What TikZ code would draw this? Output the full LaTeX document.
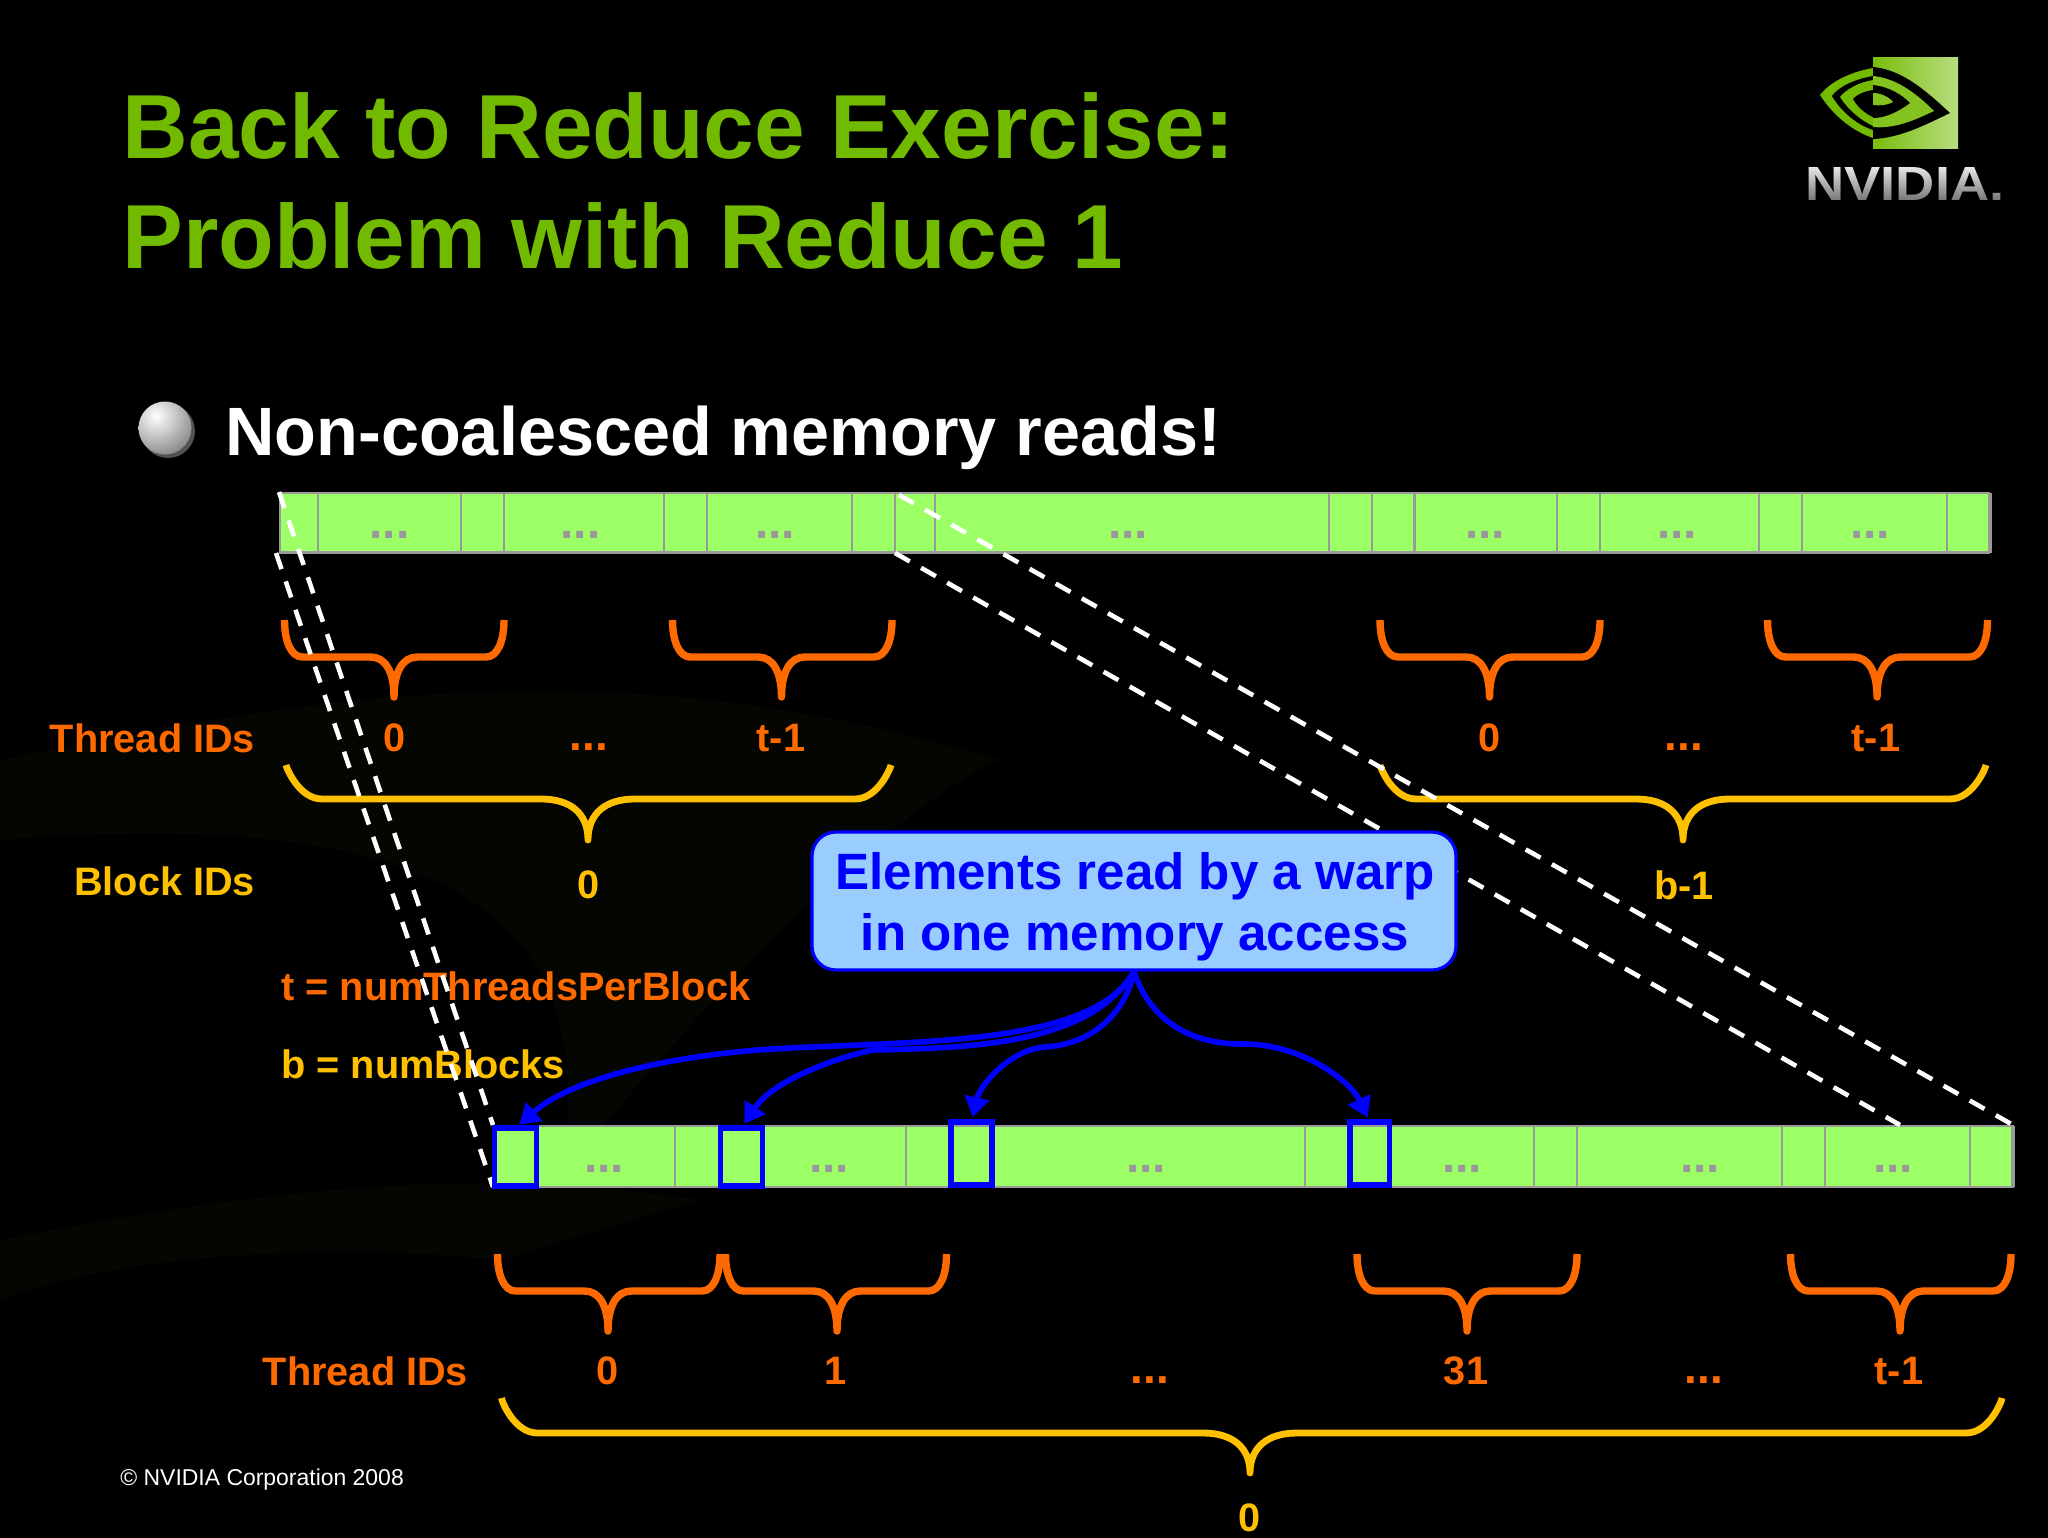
\documentclass[tikz,border=0pt]{standalone}
\usepackage{fontspec}
\setmainfont{Liberation Sans}
\usetikzlibrary{arrows.meta,fadings,calc}
\definecolor{ttl}{HTML}{72BA00}
\definecolor{barg}{HTML}{9CFF66}
\definecolor{barl}{HTML}{999999}
\definecolor{org}{HTML}{FF6A00}
\definecolor{ylw}{HTML}{FFC000}
\definecolor{blu}{HTML}{0000FF}
\definecolor{call}{HTML}{99CCFF}
\definecolor{faint}{HTML}{050502}
\tikzset{
  lbl/.style={inner sep=0pt,font=\fontsize{19.85}{24}\bfseries\selectfont},
  olbl/.style={lbl,text=org},
  ylbl/.style={lbl,text=ylw},
  gaps/.style={lbl,text=org,yshift=-4.5pt,font=\fontsize{23}{24}\bfseries\selectfont},
  ttlbl/.style={inner sep=0pt,anchor=base west,text=ttl,font=\fontsize{45.5}{52}\bfseries\selectfont},
  barbox/.style={draw=barl,fill=barg,line width=1.1pt,inner sep=0pt,outer sep=0pt,rectangle,anchor=north west},
  divline/.style={draw=barl,line width=1.2pt},
  dots/.style={inner sep=0pt,text=barl,anchor=base,font=\fontsize{24}{24}\bfseries\selectfont},
  obrace/.style={draw=org,line width=3.7pt,line cap=butt,line join=round},
  ybrace/.style={draw=ylw,line width=3.4pt,line cap=butt,line join=round},
  dashln/.style={draw=white,line width=2.3pt,dash pattern=on 8.5pt off 6.5pt},
  bluebox/.style={draw=blu,line width=2.7pt,inner sep=0pt,outer sep=0pt,rectangle,anchor=north west},
  warp/.style={draw=blu,line width=2.8pt,shorten >=2.5pt,-{Triangle[length=10pt,width=12pt]}},
}
\newcommand{\curlyb}[8]{\draw[#1] (#2,#5) .. controls (#2,#6-0.9*#8) and (#2+0.35*#8,#6) .. (#2+#8,#6) -- (#4-1.3*#8,#6) .. controls (#4-0.5*#8,#6) and (#4,#6+14) .. (#4,#7) .. controls (#4,#6+14) and (#4+0.5*#8,#6) .. (#4+1.3*#8,#6) -- (#3-#8,#6) .. controls (#3-0.35*#8,#6) and (#3,#6-0.9*#8) .. (#3,#5);}
\begin{document}
\begin{tikzpicture}[x=0.5pt,y=-0.5pt]
\useasboundingbox (0,0) rectangle (2048,1537);
\fill[black] (-4,-4) rectangle (2052,1541);
% faint background marks
\fill[faint] (0,760) .. controls (300,700) and (600,640) .. (1000,760) .. controls (900,800) and (700,1000) .. (560,1180) .. controls (600,950) and (500,800) .. (0,840) -- cycle;
\fill[faint] (0,1240) .. controls (300,1180) and (500,1170) .. (700,1200) -- (500,1260) .. controls (300,1240) and (100,1260) .. (0,1300) -- cycle;
% title
\node[ttlbl] (t1) at (122,158) {Back to Reduce Exercise:};
\node[ttlbl] (t2) at (122,268) {Problem with Reduce 1};
% logo
\shade[left color=ttl!95!white,right color=ttl!50!white] (1873,57) rectangle (1958,148);
\begin{scope}
\clip (1815,50) rectangle (1873,150);
\fill[ttl] (1873,68) .. controls (1850,72) and (1830,82) .. (1820,95) .. controls (1835,118) and (1855,132) .. (1873,138) -- cycle;
\fill[black] (1873,76) .. controls (1855,79) and (1838,87) .. (1832,96) .. controls (1842,113) and (1858,125) .. (1873,130) -- cycle;
\fill[ttl] (1873,80) .. controls (1860,82) and (1846,89) .. (1840,97) .. controls (1848,110) and (1862,121) .. (1873,126) -- cycle;
\fill[black] (1873,90) .. controls (1865,91) and (1856,95) .. (1853,99) .. controls (1858,108) and (1866,114) .. (1873,117) -- cycle;
\end{scope}
\begin{scope}
\clip (1873,50) rectangle (1958,150);
\fill[black] (1873,67) .. controls (1905,70) and (1930,95) .. (1950,113) .. controls (1925,125) and (1900,138) .. (1873,139) -- cycle;
\fill[ttl!88!white] (1873,76) .. controls (1895,78) and (1915,92) .. (1934,111) .. controls (1915,120) and (1895,129) .. (1873,127) -- cycle;
\fill[black] (1873,85) .. controls (1890,87) and (1902,95) .. (1910,103) .. controls (1898,112) and (1885,118) .. (1873,118) -- cycle;
\fill[ttl!88!white] (1873,93) .. controls (1882,93) and (1890,98) .. (1893,102) .. controls (1888,105) and (1880,106) .. (1873,105) -- cycle;
\end{scope}
\node[inner sep=0pt,anchor=base,text=white!92!black,font=\fontsize{24}{24}\bfseries\selectfont,xscale=1.13] (logotxt) at (1905,200) {NVIDIA.};
\fill[black,fill opacity=.55,path fading=north] (1800,166) rectangle (2010,204);
% bullet
\fill[black!68!white] (168,431) circle (27);
\begin{scope}
\clip (165,428) circle (26.5);
\shade[inner color=white,outer color=black!50!white] (156,416) circle (44);
\end{scope}
\node[inner sep=0pt,anchor=base west,text=white,font=\fontsize{34.2}{40}\bfseries\selectfont] (head) at (225,455) {Non-coalesced memory reads!};
% top bar
\node[barbox,minimum width=854.5pt,minimum height=29.75pt] (topbar) at (280,493) {};
\foreach \x in {318,461,504,664,707,852,895,935,1329,1372,1414.5,1557,1600,1759,1802,1947}
  \draw[divline] (\x,493) -- (\x,552.5);
\draw[barl,line width=2pt] (1989.5,493) -- (1989.5,552.5);
\foreach \x/\n in {389.5/a,580.5/b,775/c,1128/d,1485/e,1677/f,1870/g}
  \node[dots] (td\n) at (\x,538) {...};
% bottom bar
\node[barbox,minimum width=759.5pt,minimum height=30.5pt] (botbar) at (494,1126) {};
\foreach \x in {675,906,1305,1534,1577,1782,1825,1970}
  \draw[divline] (\x,1126) -- (\x,1187);
\draw[barl,line width=2pt] (2012.5,1126) -- (2012.5,1187);
\foreach \x/\n in {604/a,829/b,1146/c,1462/d,1700/e,1893/f}
  \node[dots] (bd\n) at (\x,1172) {...};
% braces
\curlyb{obrace}{284.5}{504}{394}{620}{657}{697}{18}
\curlyb{obrace}{672.5}{892}{781.5}{620}{657}{697}{18}
\curlyb{obrace}{1380}{1600}{1489.5}{620}{657}{697}{18}
\curlyb{obrace}{1767.5}{1987.5}{1877}{620}{657}{697}{18}
\curlyb{ybrace}{286}{891}{588}{765}{799}{840}{36}
\curlyb{ybrace}{1380}{1986}{1683}{765}{799}{840}{36}
\curlyb{obrace}{497.5}{720}{608}{1254}{1291}{1331}{18}
\curlyb{obrace}{725.5}{946.5}{837}{1254}{1291}{1331}{18}
\curlyb{obrace}{1357}{1577}{1467}{1254}{1291}{1331}{18}
\curlyb{obrace}{1790.5}{2011}{1900}{1254}{1291}{1331}{18}
\curlyb{ybrace}{501.5}{2002}{1250}{1398}{1433}{1473}{36}
% labels
\node[olbl,anchor=east] (l1) at (255.5,738) {Thread IDs};
\node[olbl] (l2) at (395,738) {0};
\node[gaps] (l3) at (589,738) {...};
\node[olbl] (l4) at (781,738) {t-1};
\node[olbl] (l5) at (1490,738) {0};
\node[gaps] (l6) at (1684,738) {...};
\node[olbl] (l7) at (1876,738) {t-1};
\node[ylbl,anchor=east] (l8) at (255.5,881) {Block IDs};
\node[ylbl] (l9) at (589,885) {0};
\node[ylbl] (l10) at (1684,885) {b-1};
\node[olbl,anchor=west] (l11) at (281,986) {t = numThreadsPerBlock};
\node[ylbl,anchor=west] (l12) at (281,1064) {b = numBlocks};
\node[olbl,anchor=east] (l13) at (468.5,1371) {Thread IDs};
\node[olbl] (l14) at (608,1371) {0};
\node[olbl] (l15) at (836,1371) {1};
\node[gaps] (l16) at (1150,1371) {...};
\node[olbl] (l17) at (1466,1371) {31};
\node[gaps] (l18) at (1704,1371) {...};
\node[olbl] (l19) at (1899,1371) {t-1};
\node[ylbl] (l20) at (1250,1518) {0};
\node[inner sep=0pt,anchor=west,text=white,font=\fontsize{11.47}{14}\selectfont] (copy) at (120,1479.5) {© NVIDIA Corporation 2008};
% dashed projection lines
\coordinate (tl1) at (279,492); \coordinate (bl1) at (493,1125);
\coordinate (tl2) at (276,553); \coordinate (bl2) at (493,1187);
\coordinate (tr1) at (899,495); \coordinate (br1) at (2013,1125);
\coordinate (tr2) at (895,553); \coordinate (br2) at (1900,1125);
\draw[dashln] (tl1) -- (bl1);
\draw[dashln] (tl2) -- (bl2);
\draw[dashln] (tr1) -- (br1);
\draw[dashln] (tr2) -- (br2);
% blue boxes
\node[bluebox,minimum width=21pt,minimum height=29pt] (b1) at (494.5,1128) {};
\node[bluebox,minimum width=21pt,minimum height=29pt] (b2) at (720.5,1128) {};
\node[bluebox,minimum width=20.5pt,minimum height=31.5pt] (b3) at (951,1122) {};
\node[bluebox,minimum width=19.75pt,minimum height=31.5pt] (b4) at (1350,1122) {};
% callout
\node[draw=blu,fill=call,line width=1.6pt,rounded corners=12pt,rectangle,minimum width=322pt,minimum height=69pt,inner sep=0pt] (callout) at (1134,901) {};
\node[inner sep=0pt,align=center,text=blu,font=\fontsize{25.55}{30.7}\bfseries\selectfont] (calltext) at (1135,907) {Elements read by a warp\\in one memory access};
% arrows
\draw[warp] (callout.south) .. controls (1090,1050) and (900,1040) .. (757,1050) .. controls (660,1058) and (570,1080) .. (b1.north);
\draw[warp] (callout.south) .. controls (1090,1045) and (970,1048) .. (872,1050) .. controls (820,1062) and (770,1085) .. (b2.north);
\draw[warp] (callout.south) .. controls (1125,1015) and (1090,1045) .. (1044,1047) .. controls (1010,1050) and (980,1085) .. (b3.north);
\draw[warp] (callout.south) .. controls (1150,1020) and (1190,1045) .. (1245,1044) .. controls (1300,1044) and (1350,1080) .. (b4.north);
\end{tikzpicture}
\end{document}
